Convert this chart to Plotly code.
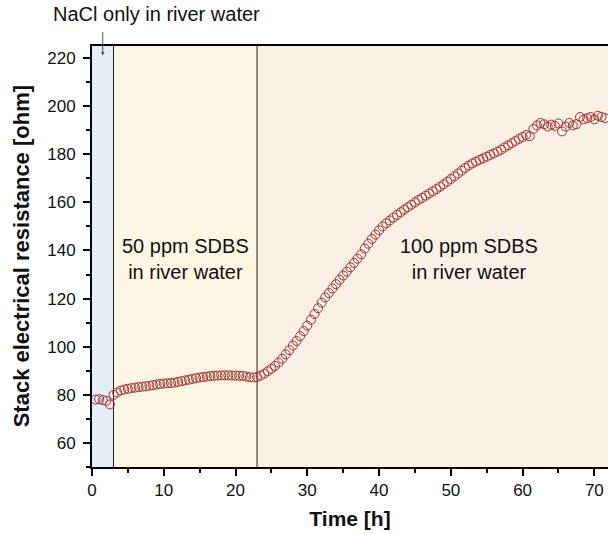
import plotly.graph_objects as go

# ---- data ----
time_h = [0.5, 1.0, 1.5, 2.0, 2.5,
          3.0, 3.5, 4.0, 4.5, 5.0, 5.5, 6.0, 6.5, 7.0, 7.5, 8.0, 8.5, 9.0, 9.5,
          10.0, 10.5, 11.0, 11.5, 12.0, 12.5, 13.0, 13.5, 14.0, 14.5, 15.0, 15.5,
          16.0, 16.5, 17.0, 17.5, 18.0, 18.5, 19.0, 19.5, 20.0, 20.5, 21.0, 21.5,
          22.0, 22.5, 23.0, 23.5, 24.0, 24.5, 25.0, 25.5, 26.0, 26.5, 27.0, 27.5,
          28.0, 28.5, 29.0, 29.5, 30.0, 30.5, 31.0, 31.5, 32.0, 32.5, 33.0, 33.5,
          34.0, 34.5, 35.0, 35.5, 36.0, 36.5, 37.0, 37.5, 38.0, 38.5, 39.0, 39.5,
          40.0, 40.5, 41.0, 41.5, 42.0, 42.5, 43.0, 43.5, 44.0, 44.5, 45.0, 45.5,
          46.0, 46.5, 47.0, 47.5, 48.0, 48.5, 49.0, 49.5, 50.0, 50.5, 51.0, 51.5,
          52.0, 52.5, 53.0, 53.5, 54.0, 54.5, 55.0, 55.5, 56.0, 56.5, 57.0, 57.5,
          58.0, 58.5, 59.0, 59.5, 60.0, 60.5, 61.0, 61.5, 62.0, 62.5, 63.0, 63.5,
          64.0, 64.5, 65.0, 65.5, 66.0, 66.5, 67.0, 67.5, 68.0, 68.5, 69.0, 69.5,
          70.0, 70.5, 71.0, 71.5]
resistance = [78.0, 78.2, 77.8, 77.5, 76.0,
              80.0, 81.0, 81.8, 82.2, 82.5, 82.8, 83.0, 83.2, 83.4, 83.5, 83.8, 84.0, 84.3, 84.5,
              84.7, 84.8, 84.9, 85.1, 85.4, 85.7, 86.0, 86.3, 86.6, 86.9, 87.2, 87.4,
              87.6, 87.8, 87.9, 88.0, 88.1, 88.1, 88.1, 88.0, 88.0, 87.9, 87.9, 87.6,
              87.3, 87.2, 87.4, 88.0, 88.8, 89.8, 90.8, 92.0, 93.4, 95.0, 96.8, 98.6,
              100.5, 102.4, 104.4, 106.5, 108.8, 111.2, 113.6, 116.0, 118.3, 120.5, 122.3, 124.2,
              126.0, 127.8, 129.6, 131.2, 133.0, 134.8, 136.6, 138.4, 140.8, 142.8, 144.8, 146.6,
              148.4, 150.0, 151.3, 152.5, 153.7, 154.8, 155.9, 157.0, 158.0, 159.0, 160.0, 161.0,
              161.9, 162.8, 163.7, 164.6, 165.5, 166.5, 167.5, 168.6, 169.7, 170.8, 172.0, 173.2,
              174.3, 175.3, 176.2, 177.0, 177.7, 178.3, 179.0, 179.7, 180.4, 181.1, 181.9, 182.8,
              183.7, 184.6, 185.5, 186.4, 187.2, 188.0, 187.5, 190.5, 192.0, 193.0, 192.5, 191.5,
              192.3, 191.8, 192.8, 189.5, 191.5, 193.0, 192.0, 192.5, 195.5, 194.5, 195.0, 195.5,
              194.5, 196.0, 195.5, 195.0]

phase_bounds = [0, 3, 23, 72]
phase_colors = ["#e3eef7", "#fcf7e3", "#faf0e5"]
phase_labels = ["NaCl only in river water", "50 ppm SDBS<br>in river water", "100 ppm SDBS<br>in river water"]
phase_label_x = [1.5, 13.0, 52.6]
phase_label_y = 136.5
x_ticks = [0, 10, 20, 30, 40, 50, 60, 70]
y_ticks = [60, 80, 100, 120, 140, 160, 180, 200, 220]

FONT = "Liberation Sans, Arial, sans-serif"

fig = go.Figure()

fig.add_trace(go.Scatter(
    x=time_h, y=resistance, mode="markers",
    marker=dict(symbol="circle-open", size=9, color="#a8302f", line=dict(width=1)),
    showlegend=False,
))

shapes = []
for i, c in enumerate(phase_colors):
    shapes.append(dict(type="rect", xref="x", yref="paper",
                       x0=phase_bounds[i], x1=phase_bounds[i + 1], y0=0, y1=1,
                       fillcolor=c, line=dict(width=0), layer="below"))
for b in phase_bounds[1:3]:
    shapes.append(dict(type="line", xref="x", yref="paper", x0=b, x1=b, y0=0, y1=1,
                       line=dict(color="#222222", width=1), layer="below"))

annotations = []
for i in (1, 2):
    annotations.append(dict(x=phase_label_x[i], y=phase_label_y, xref="x", yref="y",
                            text=phase_labels[i], showarrow=False,
                            font=dict(family=FONT, size=20, color="#111111")))
annotations.append(dict(x=0.125, y=1.0, xref="paper", yref="paper", xanchor="center", yanchor="middle",
                        text=phase_labels[0], showarrow=False,
                        font=dict(family=FONT, size=20, color="#111111"), yshift=32))
annotations.append(dict(x=phase_label_x[0], y=221, xref="x", yref="y", text="",
                        showarrow=True, ax=0, ay=-25, arrowhead=2, arrowsize=0.7,
                        arrowwidth=1, arrowcolor="#555555"))
annotations.append(dict(x=-0.136, y=0.5, xref="paper", yref="paper", xanchor="center", yanchor="middle",
                        text="<b>Stack electrical resistance [ohm]</b>", textangle=-90, showarrow=False,
                        font=dict(family=FONT, size=22, color="#111111")))

fig.update_layout(
    width=608, height=534,
    margin=dict(l=92, r=0, t=46, b=67, autoexpand=False),
    paper_bgcolor="white", plot_bgcolor="white",
    font=dict(family=FONT, size=17, color="#111111"),
    shapes=shapes, annotations=annotations,
    xaxis=dict(range=[0, 71.9], tickvals=x_ticks, ticks="outside", ticklen=7, tickwidth=2,
               tickcolor="black", showline=True, linewidth=2, linecolor="black", mirror=True,
               showgrid=False, zeroline=False, automargin=False,
               minor=dict(dtick=5, tick0=0, ticks="outside", ticklen=4, tickwidth=2, tickcolor="black"),
               title=dict(text="<b>Time [h]</b>", font=dict(size=21), standoff=12),
               tickfont=dict(size=17)),
    yaxis=dict(range=[50, 225], tickvals=y_ticks, ticks="outside", ticklen=7, tickwidth=2,
               tickcolor="black", showline=True, linewidth=2, linecolor="black",
               showgrid=False, zeroline=False, automargin=False, ticklabelstandoff=4,
               minor=dict(dtick=10, tick0=50, ticks="outside", ticklen=4, tickwidth=2, tickcolor="black"),
               tickfont=dict(size=17)),
)

fig.write_html("out.html", config={"displayModeBar": False},
               post_script="document.body.style.margin='0px';document.body.style.overflow='hidden';")
